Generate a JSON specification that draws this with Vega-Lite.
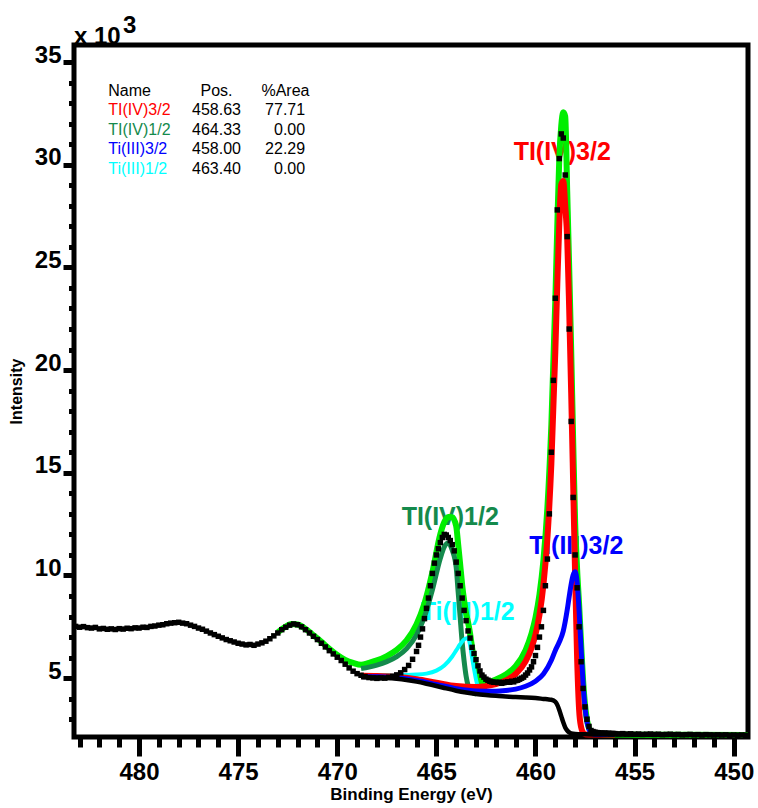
{
"$schema":"https://vega.github.io/schema/vega-lite/v6.json",
"width":674,"height":692,
"autosize":{"type":"none"},
"padding":{"left":74,"top":45,"right":10,"bottom":71},
"background":"white",
"config":{"view":{"stroke":"black","strokeWidth":5},"font":"Liberation Sans"},
"datasets":{
"pts":[
{"e":483.2,"i":7520},{"e":483.0,"i":7480},{"e":482.8,"i":7510},{"e":482.6,"i":7460},{"e":482.4,"i":7440},{"e":482.2,"i":7470},{"e":482.0,"i":7400},{"e":481.8,"i":7420},{"e":481.6,"i":7380},{"e":481.4,"i":7400},{"e":481.2,"i":7370},{"e":481.0,"i":7410},{"e":480.8,"i":7390},{"e":480.6,"i":7430},{"e":480.4,"i":7410},{"e":480.2,"i":7450},{"e":480.0,"i":7440},{"e":479.8,"i":7480},{"e":479.6,"i":7470},{"e":479.4,"i":7520},{"e":479.2,"i":7540},{"e":479.0,"i":7580},{"e":478.8,"i":7600},{"e":478.6,"i":7650},{"e":478.4,"i":7680},{"e":478.2,"i":7700},{"e":478.0,"i":7720},{"e":477.8,"i":7680},{"e":477.6,"i":7650},{"e":477.4,"i":7580},{"e":477.2,"i":7520},{"e":477.0,"i":7440},{"e":476.8,"i":7380},{"e":476.6,"i":7290},{"e":476.4,"i":7200},{"e":476.2,"i":7120},{"e":476.0,"i":7040},{"e":475.8,"i":6960},{"e":475.6,"i":6880},{"e":475.4,"i":6820},{"e":475.2,"i":6760},{"e":475.0,"i":6700},{"e":474.8,"i":6660},{"e":474.6,"i":6620},{"e":474.4,"i":6640},{"e":474.2,"i":6600},{"e":474.0,"i":6660},{"e":473.8,"i":6720},{"e":473.6,"i":6800},{"e":473.4,"i":6920},{"e":473.2,"i":7060},{"e":473.0,"i":7200},{"e":472.8,"i":7360},{"e":472.6,"i":7480},{"e":472.4,"i":7580},{"e":472.2,"i":7640},{"e":472.0,"i":7600},{"e":471.8,"i":7500},{"e":471.6,"i":7360},{"e":471.4,"i":7200},{"e":471.2,"i":7040},{"e":471.0,"i":6880},{"e":470.8,"i":6700},{"e":470.6,"i":6520},{"e":470.4,"i":6340},{"e":470.2,"i":6180},{"e":470.0,"i":6020},{"e":469.8,"i":5860},{"e":469.6,"i":5680},{"e":469.4,"i":5500},{"e":469.2,"i":5340},{"e":469.0,"i":5220},{"e":468.8,"i":5140},{"e":468.6,"i":5080},{"e":468.4,"i":5030},{"e":468.2,"i":5010},{"e":468.0,"i":4990},{"e":467.8,"i":5010},{"e":467.6,"i":5000},{"e":467.4,"i":5040},{"e":467.2,"i":5080},{"e":467.0,"i":5160},{"e":466.8,"i":5260},{"e":466.6,"i":5420},{"e":466.4,"i":5620},{"e":466.2,"i":5920},{"e":466.0,"i":6300},
{"e":465.9,"i":6600},{"e":465.8,"i":7000},{"e":465.7,"i":7400},{"e":465.6,"i":7900},{"e":465.5,"i":8400},{"e":465.4,"i":8900},{"e":465.3,"i":9500},{"e":465.2,"i":10100},{"e":465.1,"i":10600},{"e":465.0,"i":11000},{"e":464.9,"i":11300},{"e":464.8,"i":11600},{"e":464.7,"i":11850},{"e":464.6,"i":12000},{"e":464.5,"i":11970},{"e":464.4,"i":11850},{"e":464.3,"i":11700},{"e":464.2,"i":11500},{"e":464.1,"i":11200},{"e":464.0,"i":10650},{"e":463.9,"i":10100},{"e":463.8,"i":9500},{"e":463.7,"i":8900},{"e":463.6,"i":8300},{"e":463.5,"i":7800},{"e":463.4,"i":7300},{"e":463.3,"i":6950},{"e":463.2,"i":6500},{"e":463.1,"i":6200},{"e":463.0,"i":5900},{"e":462.9,"i":5600},{"e":462.8,"i":5350},{"e":462.7,"i":5150},{"e":462.6,"i":5050},{"e":462.5,"i":4950},{"e":462.4,"i":4900},{"e":462.3,"i":4850},{"e":462.2,"i":4820},{"e":462.1,"i":4800},{"e":462.0,"i":4800},{"e":461.9,"i":4780},{"e":461.8,"i":4800},{"e":461.7,"i":4750},{"e":461.6,"i":4780},{"e":461.5,"i":4800},{"e":461.4,"i":4820},{"e":461.3,"i":4800},{"e":461.2,"i":4850},{"e":461.1,"i":4820},{"e":461.0,"i":4880},{"e":460.9,"i":4900},{"e":460.8,"i":4950},{"e":460.7,"i":5000},{"e":460.6,"i":5050},{"e":460.5,"i":5150},{"e":460.4,"i":5250},{"e":460.3,"i":5400},{"e":460.2,"i":5550},{"e":460.1,"i":5800},{"e":460.0,"i":6100},{"e":459.9,"i":6500},{"e":459.8,"i":7000},{"e":459.7,"i":7500},{"e":459.6,"i":8300},{"e":459.5,"i":9500},{"e":459.4,"i":10800},{"e":459.3,"i":13000},{"e":459.2,"i":16000},{"e":459.1,"i":19500},{"e":459.0,"i":23500},{"e":458.9,"i":27800},{"e":458.8,"i":30300},{"e":458.7,"i":31500},{"e":458.6,"i":31300},{"e":458.5,"i":29500},{"e":458.4,"i":26500},{"e":458.3,"i":22000},{"e":458.2,"i":17500},{"e":458.1,"i":13800},{"e":458.0,"i":11000},{"e":457.9,"i":9400},{"e":457.8,"i":7500},{"e":457.7,"i":5800},{"e":457.6,"i":4500},{"e":457.5,"i":3600},{"e":457.4,"i":3000},{"e":457.3,"i":2650},{"e":457.2,"i":2450},{"e":457.1,"i":2400},{"e":457.0,"i":2370},{"e":456.9,"i":2350},{"e":456.8,"i":2340},{"e":456.7,"i":2330},{"e":456.6,"i":2320},{"e":456.5,"i":2330},{"e":456.4,"i":2310},{"e":456.3,"i":2320},{"e":456.2,"i":2300},{"e":456.1,"i":2310},{"e":456.0,"i":2300},
{"e":455.8,"i":2290},{"e":455.6,"i":2300},{"e":455.4,"i":2280},{"e":455.2,"i":2290},{"e":455.0,"i":2270},{"e":454.8,"i":2280},{"e":454.6,"i":2260},{"e":454.4,"i":2270},{"e":454.2,"i":2280},{"e":454.0,"i":2260},{"e":453.8,"i":2270},{"e":453.6,"i":2250},{"e":453.4,"i":2260},{"e":453.2,"i":2270},{"e":453.0,"i":2250},{"e":452.8,"i":2260},{"e":452.6,"i":2240},{"e":452.4,"i":2250},{"e":452.2,"i":2260},{"e":452.0,"i":2240},{"e":451.8,"i":2250},{"e":451.6,"i":2230},{"e":451.4,"i":2250},{"e":451.2,"i":2240},{"e":451.0,"i":2230},{"e":450.8,"i":2240},{"e":450.6,"i":2230},{"e":450.4,"i":2240},{"e":450.2,"i":2220},{"e":450.0,"i":2230},{"e":449.8,"i":2220},{"e":449.6,"i":2230},{"e":449.4,"i":2220}
],
"fit":[
{"s":"env","e":473.0,"i":7230},{"s":"env","e":472.6,"i":7510},{"s":"env","e":472.3,"i":7640},{"s":"env","e":472.0,"i":7610},{"s":"env","e":471.6,"i":7400},{"s":"env","e":471.2,"i":7090},{"s":"env","e":470.8,"i":6770},{"s":"env","e":470.4,"i":6430},{"s":"env","e":470.0,"i":6130},{"s":"env","e":469.6,"i":5890},{"s":"env","e":469.2,"i":5740},{"s":"env","e":468.8,"i":5648},{"s":"env","e":468.4,"i":5743},{"s":"env","e":468.0,"i":5863},{"s":"env","e":467.5,"i":6078},{"s":"env","e":467.0,"i":6379},{"s":"env","e":466.5,"i":6847},{"s":"env","e":466.0,"i":7631},{"s":"env","e":465.6,"i":8645},{"s":"env","e":465.2,"i":10165},{"s":"env","e":464.8,"i":12020},{"s":"env","e":464.6,"i":12600},{"s":"env","e":464.4,"i":12850},{"s":"env","e":464.2,"i":12840},{"s":"env","e":464.0,"i":12400},{"s":"env","e":463.9,"i":11500},{"s":"env","e":463.8,"i":10550},{"s":"env","e":463.7,"i":9550},{"s":"env","e":463.6,"i":8780},{"s":"env","e":463.5,"i":8135},{"s":"env","e":463.4,"i":7720},{"s":"env","e":463.3,"i":7175},{"s":"env","e":463.2,"i":6500},{"s":"env","e":463.1,"i":5910},{"s":"env","e":463.0,"i":5415},{"s":"env","e":462.9,"i":5075},{"s":"env","e":462.8,"i":4885},{"s":"env","e":462.7,"i":4805},{"s":"env","e":462.5,"i":4793},{"s":"env","e":462.0,"i":4931},{"s":"env","e":461.5,"i":5176},{"s":"env","e":461.0,"i":5590},{"s":"env","e":460.5,"i":6366},{"s":"env","e":460.2,"i":7171},{"s":"env","e":460.0,"i":7952},{"s":"env","e":459.8,"i":9070},{"s":"env","e":459.6,"i":10740},{"s":"env","e":459.4,"i":13300},{"s":"env","e":459.2,"i":17350},{"s":"env","e":459.0,"i":23400},{"s":"env","e":458.9,"i":27020},{"s":"env","e":458.8,"i":30300},{"s":"env","e":458.7,"i":31900},{"s":"env","e":458.6,"i":32550},{"s":"env","e":458.5,"i":32350},{"s":"env","e":458.4,"i":28700},{"s":"env","e":458.3,"i":25000},{"s":"env","e":458.2,"i":21000},{"s":"env","e":458.1,"i":16600},{"s":"env","e":458.0,"i":12600},{"s":"env","e":457.9,"i":10300},{"s":"env","e":457.8,"i":8600},{"s":"env","e":457.7,"i":6700},{"s":"env","e":457.6,"i":4900},{"s":"env","e":457.5,"i":3700},{"s":"env","e":457.4,"i":2950},{"s":"env","e":457.3,"i":2560},{"s":"env","e":457.2,"i":2390},{"s":"env","e":457.0,"i":2290},{"s":"env","e":456.0,"i":2255},{"s":"env","e":453.0,"i":2245},{"s":"env","e":449.28,"i":2232},
{"s":"TI(IV)1/2","e":468.8,"i":5468},{"s":"TI(IV)1/2","e":468.4,"i":5540},{"s":"TI(IV)1/2","e":468.0,"i":5637},{"s":"TI(IV)1/2","e":467.5,"i":5804},{"s":"TI(IV)1/2","e":467.0,"i":6047},{"s":"TI(IV)1/2","e":466.5,"i":6440},{"s":"TI(IV)1/2","e":466.0,"i":7106},{"s":"TI(IV)1/2","e":465.6,"i":7990},{"s":"TI(IV)1/2","e":465.2,"i":9300},{"s":"TI(IV)1/2","e":464.8,"i":10840},{"s":"TI(IV)1/2","e":464.6,"i":11395},{"s":"TI(IV)1/2","e":464.4,"i":11580},{"s":"TI(IV)1/2","e":464.2,"i":11235},{"s":"TI(IV)1/2","e":464.0,"i":10390},{"s":"TI(IV)1/2","e":463.9,"i":9175},{"s":"TI(IV)1/2","e":463.8,"i":7960},{"s":"TI(IV)1/2","e":463.7,"i":6745},{"s":"TI(IV)1/2","e":463.6,"i":5830},{"s":"TI(IV)1/2","e":463.5,"i":5100},{"s":"TI(IV)1/2","e":463.4,"i":4640},{"s":"TI(IV)1/2","e":463.3,"i":4390},{"s":"TI(IV)1/2","e":463.2,"i":4300},{"s":"TI(IV)1/2","e":463.0,"i":4230},
{"s":"Ti(III)1/2","e":468.8,"i":5135},{"s":"Ti(III)1/2","e":468.0,"i":5145},{"s":"Ti(III)1/2","e":467.5,"i":5159},{"s":"Ti(III)1/2","e":467.0,"i":5160},{"s":"Ti(III)1/2","e":466.5,"i":5160},{"s":"Ti(III)1/2","e":466.0,"i":5173},{"s":"Ti(III)1/2","e":465.5,"i":5220},{"s":"Ti(III)1/2","e":465.0,"i":5367},{"s":"Ti(III)1/2","e":464.6,"i":5615},{"s":"Ti(III)1/2","e":464.2,"i":6055},{"s":"Ti(III)1/2","e":464.0,"i":6350},{"s":"Ti(III)1/2","e":463.8,"i":6650},{"s":"Ti(III)1/2","e":463.6,"i":6890},{"s":"Ti(III)1/2","e":463.4,"i":6950},{"s":"Ti(III)1/2","e":463.3,"i":6620},{"s":"Ti(III)1/2","e":463.2,"i":6010},{"s":"Ti(III)1/2","e":463.1,"i":5450},{"s":"Ti(III)1/2","e":463.0,"i":4930},{"s":"Ti(III)1/2","e":462.9,"i":4565},{"s":"Ti(III)1/2","e":462.8,"i":4355},{"s":"Ti(III)1/2","e":462.7,"i":4245},{"s":"Ti(III)1/2","e":462.5,"i":4180},
{"s":"TI(IV)3/2","e":468.8,"i":5114},{"s":"TI(IV)3/2","e":468.0,"i":5105},{"s":"TI(IV)3/2","e":467.0,"i":5064},{"s":"TI(IV)3/2","e":466.0,"i":4951},{"s":"TI(IV)3/2","e":465.0,"i":4782},{"s":"TI(IV)3/2","e":464.0,"i":4617},{"s":"TI(IV)3/2","e":463.0,"i":4571},{"s":"TI(IV)3/2","e":462.5,"i":4613},{"s":"TI(IV)3/2","e":462.0,"i":4709},{"s":"TI(IV)3/2","e":461.5,"i":4889},{"s":"TI(IV)3/2","e":461.0,"i":5204},{"s":"TI(IV)3/2","e":460.5,"i":5821},{"s":"TI(IV)3/2","e":460.2,"i":6471},{"s":"TI(IV)3/2","e":460.0,"i":7132},{"s":"TI(IV)3/2","e":459.8,"i":8074},{"s":"TI(IV)3/2","e":459.6,"i":9536},{"s":"TI(IV)3/2","e":459.4,"i":11804},{"s":"TI(IV)3/2","e":459.2,"i":15430},{"s":"TI(IV)3/2","e":459.0,"i":20904},{"s":"TI(IV)3/2","e":458.9,"i":24167},{"s":"TI(IV)3/2","e":458.8,"i":27114},{"s":"TI(IV)3/2","e":458.7,"i":29043},{"s":"TI(IV)3/2","e":458.6,"i":29210},{"s":"TI(IV)3/2","e":458.5,"i":28000},{"s":"TI(IV)3/2","e":458.4,"i":26400},{"s":"TI(IV)3/2","e":458.3,"i":22960},{"s":"TI(IV)3/2","e":458.2,"i":18910},{"s":"TI(IV)3/2","e":458.1,"i":14490},{"s":"TI(IV)3/2","e":458.0,"i":9980},{"s":"TI(IV)3/2","e":457.9,"i":5975},{"s":"TI(IV)3/2","e":457.8,"i":3470},{"s":"TI(IV)3/2","e":457.7,"i":2618},{"s":"TI(IV)3/2","e":457.6,"i":2346},{"s":"TI(IV)3/2","e":457.5,"i":2272},{"s":"TI(IV)3/2","e":457.0,"i":2258},{"s":"TI(IV)3/2","e":456.0,"i":2252},
{"s":"Ti(III)3/2","e":468.8,"i":5081},{"s":"Ti(III)3/2","e":468.0,"i":5066},{"s":"Ti(III)3/2","e":467.0,"i":5015},{"s":"Ti(III)3/2","e":466.0,"i":4887},{"s":"Ti(III)3/2","e":465.0,"i":4694},{"s":"Ti(III)3/2","e":464.0,"i":4490},{"s":"Ti(III)3/2","e":463.0,"i":4374},{"s":"Ti(III)3/2","e":462.0,"i":4362},{"s":"Ti(III)3/2","e":461.5,"i":4397},{"s":"Ti(III)3/2","e":461.0,"i":4466},{"s":"Ti(III)3/2","e":460.5,"i":4605},{"s":"Ti(III)3/2","e":460.0,"i":4850},{"s":"Ti(III)3/2","e":459.6,"i":5200},{"s":"Ti(III)3/2","e":459.2,"i":5870},{"s":"Ti(III)3/2","e":459.0,"i":6350},{"s":"Ti(III)3/2","e":458.8,"i":6760},{"s":"Ti(III)3/2","e":458.6,"i":7290},{"s":"Ti(III)3/2","e":458.4,"i":8320},{"s":"Ti(III)3/2","e":458.3,"i":8970},{"s":"Ti(III)3/2","e":458.2,"i":9580},{"s":"Ti(III)3/2","e":458.1,"i":10020},{"s":"Ti(III)3/2","e":458.0,"i":10180},{"s":"Ti(III)3/2","e":457.9,"i":9680},{"s":"Ti(III)3/2","e":457.8,"i":8270},{"s":"Ti(III)3/2","e":457.7,"i":6470},{"s":"Ti(III)3/2","e":457.6,"i":4765},{"s":"Ti(III)3/2","e":457.5,"i":3560},{"s":"Ti(III)3/2","e":457.4,"i":2860},{"s":"Ti(III)3/2","e":457.3,"i":2510},{"s":"Ti(III)3/2","e":457.2,"i":2356},{"s":"Ti(III)3/2","e":457.0,"i":2262},{"s":"Ti(III)3/2","e":456.0,"i":2252},
{"s":"bg","e":468.8,"i":5050},{"s":"bg","e":468.4,"i":5040},{"s":"bg","e":468.0,"i":5030},{"s":"bg","e":467.5,"i":5010},{"s":"bg","e":467.0,"i":4970},{"s":"bg","e":466.5,"i":4910},{"s":"bg","e":466.0,"i":4830},{"s":"bg","e":465.5,"i":4730},{"s":"bg","e":465.0,"i":4620},{"s":"bg","e":464.5,"i":4500},{"s":"bg","e":464.0,"i":4390},{"s":"bg","e":463.5,"i":4300},{"s":"bg","e":463.0,"i":4230},{"s":"bg","e":462.5,"i":4180},{"s":"bg","e":462.0,"i":4140},{"s":"bg","e":461.5,"i":4110},{"s":"bg","e":461.0,"i":4080},{"s":"bg","e":460.5,"i":4060},{"s":"bg","e":460.0,"i":4030},{"s":"bg","e":459.6,"i":3990},{"s":"bg","e":459.4,"i":3970},{"s":"bg","e":459.2,"i":3950},{"s":"bg","e":459.0,"i":3850},{"s":"bg","e":458.9,"i":3700},{"s":"bg","e":458.8,"i":3450},{"s":"bg","e":458.7,"i":3150},{"s":"bg","e":458.6,"i":2850},{"s":"bg","e":458.5,"i":2600},{"s":"bg","e":458.4,"i":2450},{"s":"bg","e":458.3,"i":2360},{"s":"bg","e":458.2,"i":2310},{"s":"bg","e":458.1,"i":2290},{"s":"bg","e":458.0,"i":2280},{"s":"bg","e":457.5,"i":2265},{"s":"bg","e":457.0,"i":2258},{"s":"bg","e":456.0,"i":2252},{"s":"bg","e":453.0,"i":2242},{"s":"bg","e":449.28,"i":2232}
],
"labels":[
{"s":"TI(IV)3/2","e":458.65,"i":30230},{"s":"TI(IV)1/2","e":464.30,"i":12440},{"s":"Ti(III)3/2","e":457.94,"i":11070},{"s":"Ti(III)1/2","e":463.42,"i":7810}
],
"table":[
{"r":0,"s":"hdr","name":"Name","pos":"Pos.","area":"%Area"},
{"r":1,"s":"TI(IV)3/2","name":"TI(IV)3/2","pos":"458.63","area":"77.71"},
{"r":2,"s":"TI(IV)1/2","name":"TI(IV)1/2","pos":"464.33","area":"0.00"},
{"r":3,"s":"Ti(III)3/2","name":"Ti(III)3/2","pos":"458.00","area":"22.29"},
{"r":4,"s":"Ti(III)1/2","name":"Ti(III)1/2","pos":"463.40","area":"0.00"}
]
},
"layer":[
{
"encoding":{
"x":{"field":"e","type":"quantitative","title":"Binding Energy (eV)",
"scale":{"domain":[449.28,483.28],"reverse":true,"nice":false,"zero":false},
"axis":{"values":[450,451,452,453,454,455,456,457,458,459,460,461,462,463,464,465,466,467,468,469,470,471,472,473,474,475,476,477,478,479,480,481,482,483],
"labelExpr":"datum.value % 5 === 0 ? datum.label : ''",
"tickSize":{"condition":{"test":"datum.value % 5 === 0","value":19},"value":10},
"tickWidth":5,"tickColor":"black","domain":false,"grid":false,
"labelFont":"Liberation Sans","labelFontSize":24,"labelFontWeight":"bold","labelColor":"black","labelPadding":4,"labelFlush":false,"labelOverlap":false,
"titleFont":"Liberation Sans","titleFontSize":17,"titleFontWeight":"bold","titleColor":"black","titlePadding":2}},
"y":{"field":"i","type":"quantitative","title":"Intensity",
"scale":{"domain":[2135,35830],"nice":false,"zero":false},
"axis":{"values":[3000,4000,5000,6000,7000,8000,9000,10000,11000,12000,13000,14000,15000,16000,17000,18000,19000,20000,21000,22000,23000,24000,25000,26000,27000,28000,29000,30000,31000,32000,33000,34000,35000],
"labelExpr":"datum.value % 5000 === 0 ? (datum.value/1000) : ''",
"tickSize":{"condition":{"test":"datum.value % 5000 === 0","value":11},"value":5.5},
"tickWidth":5,"tickColor":"black","domain":false,"grid":false,
"labelFont":"Liberation Sans","labelFontSize":24,"labelFontWeight":"bold","labelColor":"black","labelPadding":2,"labelBaseline":"alphabetic","labelFlush":false,"labelOverlap":false,
"titleFont":"Liberation Sans","titleFontSize":16,"titleFontWeight":"bold","titleColor":"black","titlePadding":10}},
"color":{"field":"s","type":"nominal","legend":null,
"scale":{"domain":["TI(IV)3/2","TI(IV)1/2","Ti(III)3/2","Ti(III)1/2","env","bg","hdr"],"range":["#ff0000","#148a4c","#0000ff","#00ffff","#00ee00","#000000","#000000"]}}
},
"layer":[
{"data":{"name":"labels"},"mark":{"type":"text","align":"center","baseline":"alphabetic","fontSize":25,"fontWeight":"bold","font":"Liberation Sans"},"encoding":{"text":{"field":"s"}}},
{"data":{"name":"fit"},"transform":[{"filter":"datum.s === 'env'"}],"mark":{"type":"line","strokeWidth":6,"interpolate":"monotone"},"encoding":{}},
{"data":{"name":"fit"},"transform":[{"filter":"datum.s === 'TI(IV)1/2'"}],"mark":{"type":"line","strokeWidth":5,"interpolate":"monotone"},"encoding":{}},
{"data":{"name":"fit"},"transform":[{"filter":"datum.s === 'Ti(III)1/2'"}],"mark":{"type":"line","strokeWidth":4,"interpolate":"monotone"},"encoding":{}},
{"data":{"name":"fit"},"transform":[{"filter":"datum.s === 'TI(IV)3/2'"}],"mark":{"type":"line","strokeWidth":6,"interpolate":"monotone"},"encoding":{}},
{"data":{"name":"fit"},"transform":[{"filter":"datum.s === 'Ti(III)3/2'"}],"mark":{"type":"line","strokeWidth":5,"interpolate":"monotone"},"encoding":{}},
{"data":{"name":"fit"},"transform":[{"filter":"datum.s === 'bg'"}],"mark":{"type":"line","strokeWidth":4.5,"interpolate":"monotone"},"encoding":{}},
{"data":{"name":"pts"},"mark":{"type":"square","size":30,"opacity":1,"filled":true},"encoding":{"color":{"value":"black"}}}
]
},
{
"data":{"name":"table"},
"encoding":{"y":{"field":"r","type":"quantitative","scale":{"domain":[-2.6,32.89],"reverse":true,"nice":false,"zero":false},"axis":null}},
"layer":[
{"mark":{"type":"text","align":"left","baseline":"alphabetic","fontSize":16,"font":"Liberation Sans"},"encoding":{"x":{"datum":481.55,"type":"quantitative","axis":null,"scale":{"domain":[449.28,483.28],"reverse":true,"nice":false,"zero":false}},"text":{"field":"name"},"color":{"field":"s","type":"nominal","legend":null,"scale":{"domain":["TI(IV)3/2","TI(IV)1/2","Ti(III)3/2","Ti(III)1/2","env","bg","hdr"],"range":["#ff0000","#148a4c","#0000ff","#00ffff","#00ee00","#000000","#000000"]}}}},
{"mark":{"type":"text","align":"center","baseline":"alphabetic","fontSize":16,"font":"Liberation Sans"},"encoding":{"x":{"datum":476.09,"type":"quantitative","axis":null,"scale":{"domain":[449.28,483.28],"reverse":true,"nice":false,"zero":false}},"text":{"field":"pos"},"color":{"value":"black"}}},
{"transform":[{"filter":"datum.r > 0"}],"mark":{"type":"text","align":"right","baseline":"alphabetic","fontSize":16,"font":"Liberation Sans"},"encoding":{"x":{"datum":471.62,"type":"quantitative","axis":null,"scale":{"domain":[449.28,483.28],"reverse":true,"nice":false,"zero":false}},"text":{"field":"area"},"color":{"value":"black"}}},
{"transform":[{"filter":"datum.r === 0"}],"mark":{"type":"text","align":"right","baseline":"alphabetic","fontSize":16,"font":"Liberation Sans"},"encoding":{"x":{"datum":471.4,"type":"quantitative","axis":null,"scale":{"domain":[449.28,483.28],"reverse":true,"nice":false,"zero":false}},"text":{"field":"area"},"color":{"value":"black"}}},
{"transform":[{"filter":"datum.r === 0"}],"mark":{"type":"text","text":"x 10","dy":-52,"align":"left","baseline":"alphabetic","fontSize":24,"fontWeight":"bold","font":"Liberation Sans","color":"black"},"encoding":{"x":{"datum":483.28,"type":"quantitative","axis":null,"scale":{"domain":[449.28,483.28],"reverse":true,"nice":false,"zero":false}},"color":{"value":"black"}}},
{"transform":[{"filter":"datum.r === 0"}],"mark":{"type":"text","text":"3","dy":-63,"align":"left","baseline":"alphabetic","fontSize":24,"fontWeight":"bold","font":"Liberation Sans","color":"black"},"encoding":{"x":{"datum":480.81,"type":"quantitative","axis":null,"scale":{"domain":[449.28,483.28],"reverse":true,"nice":false,"zero":false}},"color":{"value":"black"}}}
]
}
],
"resolve":{"scale":{"x":"independent","y":"independent"}}
}
